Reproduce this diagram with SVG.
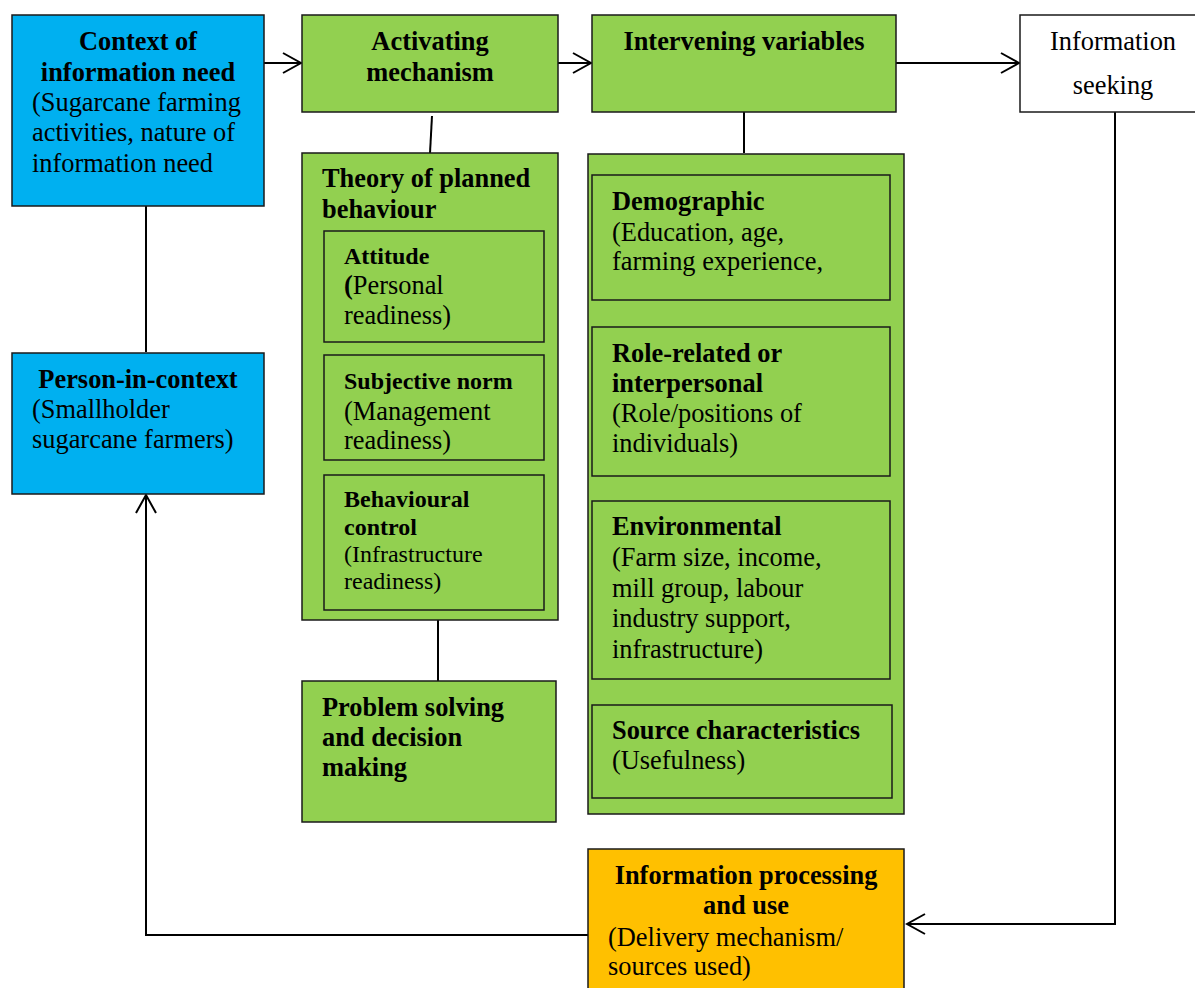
<svg xmlns="http://www.w3.org/2000/svg" width="1195" height="988" viewBox="0 0 1195 988">
  <style>
    .box { stroke: #1a1a1a; stroke-width: 1.5; }
    .blue { fill: #00B0F0; }
    .green { fill: #92D050; }
    .orange { fill: #FFC000; }
    .white { fill: #FFFFFF; }
    text { font-family: "Liberation Serif", "Times New Roman", serif; fill: #000; }
    .t { font-size: 26.4px; }
    .b { font-size: 26.4px; font-weight: bold; }
    .sb { font-size: 24px; font-weight: bold; }
    .s { font-size: 24px; }
    .c { text-anchor: middle; }
    .link { fill: none; stroke: #000; stroke-width: 2; }
  </style>
  <defs>
    <marker id="arrow" markerUnits="userSpaceOnUse" viewBox="-21 -12 23 24" refX="0" refY="0" markerWidth="23" markerHeight="24" orient="auto">
      <path d="M-18,-10 L0,0 L-18,10" fill="none" stroke="#000" stroke-width="2"/>
    </marker>
  </defs>

  <rect width="1195" height="988" fill="#FFFFFF"/>

  <!-- connectors -->
  <g id="connectors">
    <line class="link" x1="264" y1="63" x2="301" y2="63" marker-end="url(#arrow)"/>
    <line class="link" x1="558" y1="63" x2="591" y2="63" marker-end="url(#arrow)"/>
    <line class="link" x1="896" y1="63" x2="1019" y2="63" marker-end="url(#arrow)"/>
    <line class="link" x1="432" y1="116" x2="430" y2="153"/>
    <line class="link" x1="744" y1="112" x2="744" y2="153"/>
    <line class="link" x1="438" y1="620" x2="438" y2="681"/>
    <line class="link" x1="146" y1="206" x2="146" y2="352"/>
    <polyline class="link" points="1115,112 1115,924 907,924" marker-end="url(#arrow)"/>
    <polyline class="link" points="588,935 146,935 146,495" marker-end="url(#arrow)"/>
  </g>

  <!-- Context of information need -->
  <g id="context">
    <rect class="box blue" x="12" y="15" width="252" height="191"/>
    <text class="b c" x="138" y="50">Context of</text>
    <text class="b c" x="138" y="81">information need</text>
    <text class="t" x="32" y="111">(Sugarcane farming</text>
    <text class="t" x="32" y="141">activities, nature of</text>
    <text class="t" x="32" y="172">information need</text>
  </g>

  <!-- Person-in-context -->
  <g id="person">
    <rect class="box blue" x="12" y="353" width="252" height="141"/>
    <text class="b c" x="138" y="388">Person-in-context</text>
    <text class="t" x="32" y="418">(Smallholder</text>
    <text class="t" x="32" y="448">sugarcane farmers)</text>
  </g>

  <!-- Activating mechanism -->
  <g id="activating">
    <rect class="box green" x="302" y="15" width="256" height="97"/>
    <text class="b c" x="430" y="50">Activating</text>
    <text class="b c" x="430" y="81">mechanism</text>
  </g>

  <!-- Theory of planned behaviour -->
  <g id="tpb">
    <rect class="box green" x="302" y="153" width="256" height="467"/>
    <text class="b" x="322" y="187">Theory of planned</text>
    <text class="b" x="322" y="218">behaviour</text>
  </g>
  <g id="attitude">
    <rect class="box green" x="324" y="231" width="220" height="111"/>
    <text class="sb" x="344" y="264">Attitude</text>
    <text class="t" x="344" y="294"><tspan font-weight="bold">(</tspan>Personal</text>
    <text class="t" x="344" y="324">readiness)</text>
  </g>
  <g id="subjective-norm">
    <rect class="box green" x="324" y="355" width="220" height="105"/>
    <text class="sb" x="344" y="389">Subjective norm</text>
    <text class="t" x="344" y="420">(Management</text>
    <text class="t" x="344" y="449">readiness)</text>
  </g>
  <g id="behavioural-control">
    <rect class="box green" x="324" y="475" width="220" height="135"/>
    <text class="sb" x="344" y="507">Behavioural</text>
    <text class="sb" x="344" y="535">control</text>
    <text class="s" x="344" y="562">(Infrastructure</text>
    <text class="s" x="344" y="589">readiness)</text>
  </g>

  <!-- Problem solving and decision making -->
  <g id="problem-solving">
    <rect class="box green" x="302" y="681" width="254" height="141"/>
    <text class="b" x="322" y="716">Problem solving</text>
    <text class="b" x="322" y="746">and decision</text>
    <text class="b" x="322" y="776">making</text>
  </g>

  <!-- Intervening variables -->
  <g id="intervening">
    <rect class="box green" x="592" y="15" width="304" height="97"/>
    <text class="b c" x="744" y="50">Intervening variables</text>
  </g>
  <g id="variables">
    <rect class="box green" x="588" y="154" width="316" height="660"/>
  </g>
  <g id="demographic">
    <rect class="box green" x="592" y="175" width="298" height="125"/>
    <text class="b" x="612" y="210">Demographic</text>
    <text class="t" x="612" y="241">(Education, age,</text>
    <text class="t" x="612" y="270">farming experience,</text>
  </g>
  <g id="role-related">
    <rect class="box green" x="592" y="327" width="298" height="149"/>
    <text class="b" x="612" y="362">Role-related or</text>
    <text class="b" x="612" y="392">interpersonal</text>
    <text class="t" x="612" y="422">(Role/positions of</text>
    <text class="t" x="612" y="452">individuals)</text>
  </g>
  <g id="environmental">
    <rect class="box green" x="592" y="501" width="298" height="178"/>
    <text class="b" x="612" y="535">Environmental</text>
    <text class="t" x="612" y="566">(Farm size, income,</text>
    <text class="t" x="612" y="597">mill group, labour</text>
    <text class="t" x="612" y="627">industry support,</text>
    <text class="t" x="612" y="658">infrastructure)</text>
  </g>
  <g id="source-characteristics">
    <rect class="box green" x="592" y="705" width="300" height="93"/>
    <text class="b" x="612" y="739">Source characteristics</text>
    <text class="t" x="612" y="769">(Usefulness)</text>
  </g>

  <!-- Information seeking -->
  <g id="seeking">
    <rect class="box white" x="1020" y="15" width="185" height="97"/>
    <text class="t c" x="1113" y="50">Information</text>
    <text class="t c" x="1113" y="94">seeking</text>
  </g>

  <!-- Information processing and use -->
  <g id="processing">
    <rect class="box orange" x="588" y="849" width="316" height="150"/>
    <text class="b c" x="746" y="884">Information processing</text>
    <text class="b c" x="746" y="914">and use</text>
    <text class="t" x="608" y="946">(Delivery mechanism/</text>
    <text class="t" x="608" y="975">sources used)</text>
  </g>
</svg>
